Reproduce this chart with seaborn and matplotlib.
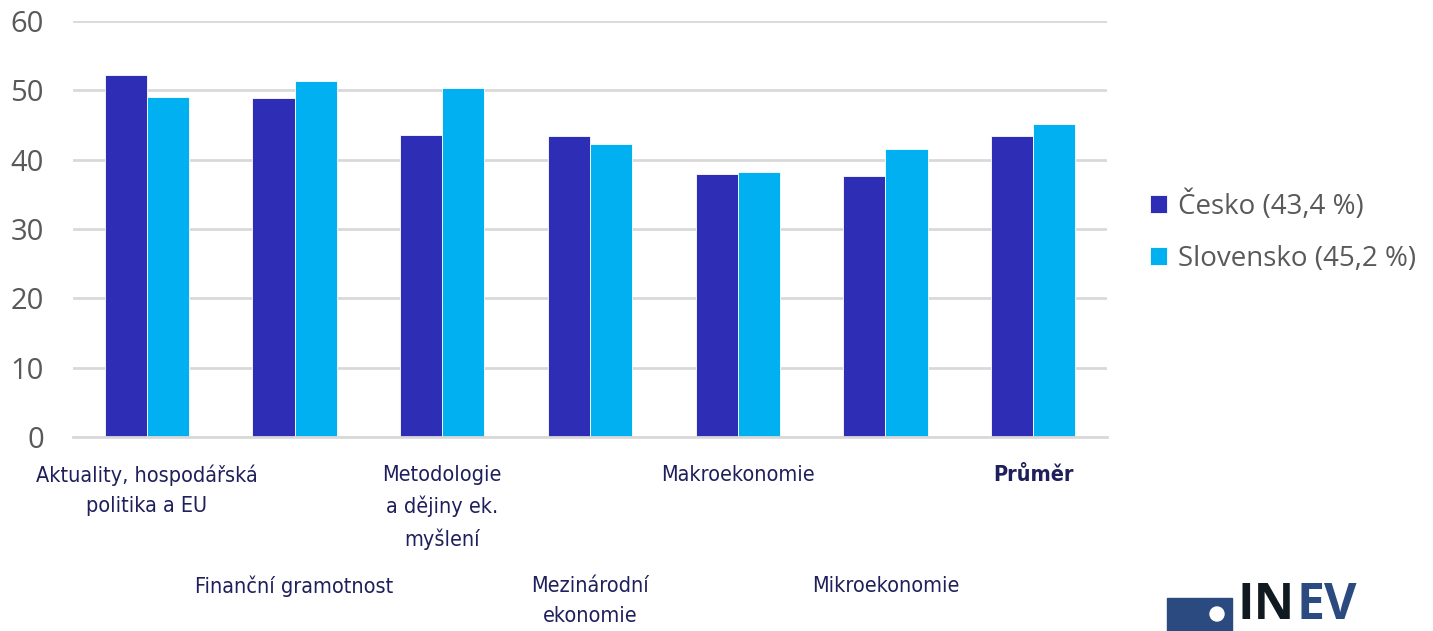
import pandas as pd
import seaborn as sns
import matplotlib.pyplot as plt
from matplotlib.patches import Rectangle, Circle

# data
categories = ['Aktuality, hospodářská\npolitika a EU', 'Finanční gramotnost',
              'Metodologie\na dějiny ek.\nmyšlení', 'Mezinárodní\nekonomie',
              'Makroekonomie', 'Mikroekonomie', 'Průměr']
cesko = [52.2, 48.9, 43.6, 43.4, 38.0, 37.7, 43.4]
slovensko = [49.0, 51.3, 50.3, 42.3, 38.2, 41.5, 45.2]
series_names = ['Česko (43,4 %)', 'Slovensko (45,2 %)']
y_ticks = [0, 10, 20, 30, 40, 50, 60]

df = pd.DataFrame({
    'kategorie': categories * 2,
    'hodnota': cesko + slovensko,
    'zeme': [series_names[0]] * len(categories) + [series_names[1]] * len(categories),
})

sns.set_style('white')
plt.rcParams['font.family'] = ['Open Sans', 'DejaVu Sans']

fig = plt.figure(figsize=(14.33, 6.31), dpi=100)
ax = fig.add_axes([0.0509, 0.3074, 0.7216, 0.6593])

palette = {series_names[0]: '#2E2DB5', series_names[1]: '#00B0F0'}
sns.barplot(data=df, x='kategorie', y='hodnota', hue='zeme', palette=palette,
            width=0.57, saturation=1, gap=0, ax=ax, legend=True,
            edgecolor='white', linewidth=0.6)

ax.set_ylim(0, 60)
ax.set_yticks(y_ticks)
ax.set_xlim(-0.5, len(categories) - 0.5)
ax.yaxis.grid(True, color='#d9d9d9', linewidth=2)
ax.set_axisbelow(True)
for s in ['top', 'right', 'left']:
    ax.spines[s].set_visible(False)
ax.spines['bottom'].set_color('#d9d9d9')
ax.spines['bottom'].set_linewidth(2)
ax.tick_params(axis='y', length=0, labelsize=21, labelcolor='#595959', pad=21)
ax.tick_params(axis='x', length=0)
ax.set_xticklabels([])
ax.set_xlabel('')
ax.set_ylabel('')

# staggered category labels (condensed font, two rows)
for i, lab in enumerate(categories):
    off = 20 if i % 2 == 0 else 100
    ax.annotate(lab, xy=(i, 0), xycoords=('data', 'axes fraction'),
                xytext=(0, -off), textcoords='offset points',
                ha='center', va='top', fontsize=15.5, color='#1F1F5C',
                family='DejaVu Sans', fontstretch='condensed', linespacing=1.62,
                fontweight='bold' if lab == 'Průměr' else 'normal')

# legend
handles, labels = ax.get_legend_handles_labels()
ax.get_legend().remove()
fig.legend(handles, labels, loc='center left', bbox_to_anchor=(0.785, 0.633),
           frameon=False, fontsize=20, labelcolor='#595959',
           handlelength=0.62, handleheight=0.62, handletextpad=0.4,
           labelspacing=0.85)

# INEV logo at the bottom right
fig.patches.append(Rectangle((1167 / 1433, 0), 65 / 1433, 33 / 631,
                             transform=fig.transFigure, color='#2B4A80'))
fig.patches.append(Circle((12.17, 0.17), 0.07, transform=fig.dpi_scale_trans,
                          color='white'))
t_in = fig.text(1238 / 1433, 0.0, 'IN', fontsize=36, fontweight='bold',
                color='#111a20', va='bottom', ha='left')
bb = t_in.get_window_extent(renderer=fig.canvas.get_renderer())
fig.text(bb.x1 / fig.bbox.width + 0.001, 0.0, 'EV', fontsize=36, fontweight='bold',
         color='#2B4A80', va='bottom', ha='left')

plt.savefig('out.png', dpi=100)
